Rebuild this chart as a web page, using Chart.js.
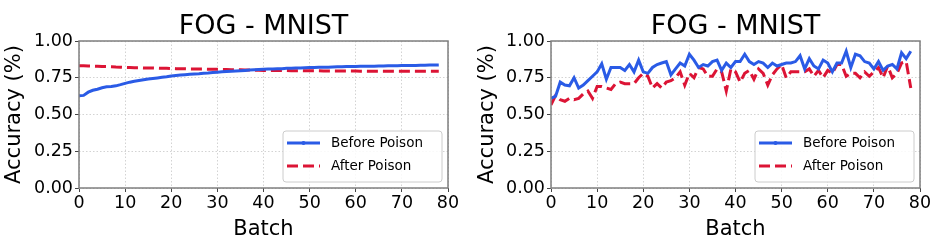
<!DOCTYPE html>
<html>
<head>
<meta charset="utf-8">
<script src="https://cdn.jsdelivr.net/npm/chart.js@4.4.1/dist/chart.umd.min.js"></script>
<style>
  html, body { margin: 0; padding: 0; background: #fff; }
  #wrap { position: relative; width: 935px; height: 240px; }
  .box { position: absolute; top: 0; height: 240px; }
</style>
</head>
<body>
<div id="wrap">
  <div class="box" style="left:0;width:465px"><canvas id="chartLeft"></canvas></div>
  <div class="box" style="left:465px;width:470px"><canvas id="chartRight"></canvas></div>
</div>
<script>
var batches = [0,1,2,3,4,5,6,7,8,9,10,11,12,13,14,15,16,17,18,19,20,21,22,23,24,25,26,27,28,29,
  30,31,32,33,34,35,36,37,38,39,40,41,42,43,44,45,46,47,48,49,50,51,52,53,54,55,56,57,58,59,
  60,61,62,63,64,65,66,67,68,69,70,71,72,73,74,75,76,77,78];

// left panel
var leftBefore = [0.628,0.63,0.652,0.665,0.672,0.682,0.688,0.69,0.695,0.703,0.712,0.72,0.726,0.731,0.736,0.741,0.745,0.749,0.753,0.757,
  0.762,0.765,0.768,0.771,0.774,0.776,0.778,0.781,0.783,0.786,0.788,0.79,0.792,0.794,0.796,0.798,0.8,0.802,0.804,0.806,
  0.808,0.809,0.81,0.811,0.812,0.814,0.815,0.816,0.817,0.818,0.819,0.82,0.821,0.822,0.822,0.823,0.824,0.825,0.826,0.827,
  0.827,0.828,0.828,0.829,0.829,0.83,0.83,0.831,0.832,0.832,0.833,0.833,0.834,0.834,0.835,0.835,0.836,0.836,0.837];
var leftAfter = [0.832,0.831,0.83,0.829,0.828,0.827,0.826,0.825,0.823,0.822,0.82,0.819,0.818,0.818,0.817,0.816,0.816,0.815,0.814,0.814,
  0.813,0.812,0.812,0.811,0.81,0.81,0.809,0.809,0.808,0.808,0.807,0.806,0.806,0.805,0.804,0.804,0.803,0.802,0.801,0.801,
  0.8,0.8,0.8,0.799,0.799,0.799,0.798,0.798,0.798,0.797,0.797,0.797,0.797,0.796,0.796,0.796,0.796,0.796,0.796,0.796,
  0.796,0.795,0.795,0.795,0.795,0.795,0.795,0.795,0.795,0.795,0.795,0.795,0.795,0.795,0.795,0.795,0.795,0.795,0.795];

// right panel
var rightBefore = [0.61,0.625,0.72,0.70,0.695,0.75,0.68,0.70,0.73,0.76,0.79,0.845,0.74,0.82,0.82,0.82,0.80,0.84,0.79,0.87,
  0.79,0.78,0.82,0.84,0.85,0.86,0.77,0.81,0.85,0.83,0.91,0.87,0.82,0.84,0.83,0.86,0.87,0.80,0.85,0.82,
  0.86,0.86,0.91,0.86,0.84,0.86,0.85,0.82,0.85,0.83,0.84,0.85,0.85,0.86,0.90,0.81,0.88,0.83,0.81,0.87,
  0.85,0.79,0.85,0.85,0.93,0.82,0.91,0.90,0.86,0.85,0.81,0.86,0.80,0.83,0.84,0.81,0.92,0.88,0.93];
var rightAfter = [0.565,0.63,0.60,0.59,0.61,0.60,0.61,0.64,0.66,0.61,0.69,0.69,0.68,0.67,0.71,0.72,0.71,0.71,0.71,0.75,
  0.78,0.76,0.68,0.71,0.68,0.72,0.73,0.75,0.79,0.70,0.78,0.75,0.82,0.81,0.76,0.76,0.81,0.79,0.66,0.81,
  0.79,0.72,0.78,0.80,0.74,0.81,0.78,0.70,0.77,0.81,0.84,0.75,0.79,0.79,0.79,0.79,0.81,0.76,0.80,0.75,
  0.80,0.78,0.84,0.84,0.76,0.78,0.78,0.75,0.79,0.76,0.79,0.82,0.75,0.83,0.75,0.78,0.85,0.86,0.68];

var yTicks = [0, 0.25, 0.5, 0.75, 1];
var xTicks = [0, 10, 20, 30, 40, 50, 60, 70, 80];
var titleText = 'FOG - MNIST';
var seriesNames = ['Before Poison', 'After Poison'];
var blue = '#2a5be6';
var red = '#dc1435';

function pts(ys) {
  return batches.map(function(b, i) { return { x: b, y: ys[i] }; });
}

// frame, title and the in-plot legend, drawn matplotlib-like
var framePlugin = {
  id: 'framePlugin',
  afterDraw: function(chart) {
    var ctx = chart.ctx, a = chart.chartArea;
    ctx.save();
    ctx.strokeStyle = '#7f7f7f';
    ctx.lineWidth = 1.5;
    ctx.strokeRect(a.left, a.top, a.right - a.left, a.bottom - a.top);

    ctx.fillStyle = '#000';
    ctx.font = '27px "DejaVu Sans"';
    ctx.textAlign = 'center';
    ctx.textBaseline = 'alphabetic';
    ctx.fillText(titleText, (a.left + a.right) / 2, 34);

    var w = 159, h = 51;
    var x0 = a.right - 6 - w, y0 = a.bottom - 6 - h;
    ctx.beginPath();
    ctx.roundRect(x0, y0, w, h, 3);
    ctx.fillStyle = 'rgba(255,255,255,0.85)';
    ctx.fill();
    ctx.strokeStyle = '#cccccc';
    ctx.lineWidth = 1;
    ctx.stroke();

    ctx.lineWidth = 3;
    ctx.strokeStyle = blue;
    ctx.beginPath();
    ctx.moveTo(x0 + 4, y0 + 12);
    ctx.lineTo(x0 + 37, y0 + 12);
    ctx.stroke();
    ctx.fillStyle = blue;
    ctx.beginPath();
    ctx.arc(x0 + 20.5, y0 + 12, 2, 0, Math.PI * 2);
    ctx.fill();

    ctx.strokeStyle = red;
    ctx.setLineDash([11, 5]);
    ctx.beginPath();
    ctx.moveTo(x0 + 4, y0 + 35);
    ctx.lineTo(x0 + 37, y0 + 35);
    ctx.stroke();
    ctx.setLineDash([]);

    ctx.fillStyle = '#000';
    ctx.font = '13.5px "DejaVu Sans"';
    ctx.textAlign = 'left';
    ctx.textBaseline = 'middle';
    ctx.fillText(seriesNames[0], x0 + 48, y0 + 12);
    ctx.fillText(seriesNames[1], x0 + 48, y0 + 35);
    ctx.restore();
  }
};

function makeChart(id, before, after, yWidth, padRight, yTitlePad) {
  var ctx = document.getElementById(id).getContext('2d');
  return new Chart(ctx, {
    type: 'line',
    data: {
      datasets: [{
        label: seriesNames[0],
        data: pts(before),
        borderColor: blue,
        backgroundColor: blue,
        borderWidth: 3,
        pointRadius: 0,
        tension: 0
      }, {
        label: seriesNames[1],
        data: pts(after),
        borderColor: red,
        backgroundColor: red,
        borderWidth: 3,
        borderDash: [11, 5],
        pointRadius: 0,
        tension: 0
      }]
    },
    options: {
      responsive: true,
      maintainAspectRatio: false,
      animation: false,
      layout: { padding: { left: 0, right: padRight, top: 41, bottom: 0 } },
      plugins: { legend: { display: false }, tooltip: { enabled: false } },
      scales: {
        x: {
          type: 'linear',
          min: 0,
          max: 80,
          afterBuildTicks: function(s) { s.ticks = xTicks.map(function(v) { return { value: v }; }); },
          afterFit: function(s) { s.height = 52; },
          ticks: { color: '#000', font: { family: 'DejaVu Sans', size: 17.5 }, padding: 1, maxRotation: 0 },
          grid: { color: '#d3d3d3', tickColor: '#444', tickLength: 4, tickWidth: 1 },
          border: { display: false, dash: [1.5, 2] },
          title: { display: true, text: 'Batch', color: '#000',
                   font: { family: 'DejaVu Sans', size: 21, lineHeight: 1.0 }, padding: { top: 0, bottom: 0 } }
        },
        y: {
          min: 0,
          max: 1,
          afterBuildTicks: function(s) { s.ticks = yTicks.map(function(v) { return { value: v }; }); },
          afterFit: function(s) { s.width = yWidth; },
          ticks: { color: '#000', font: { family: 'DejaVu Sans', size: 17.5 }, padding: 2,
                   callback: function(v) { return v.toFixed(2); } },
          grid: { color: '#d3d3d3', tickColor: '#444', tickLength: 4, tickWidth: 1 },
          border: { display: false, dash: [1.5, 2] },
          title: { display: true, text: 'Accuracy (%)', color: '#000',
                   font: { family: 'DejaVu Sans', size: 21, lineHeight: 1.0 }, padding: { top: yTitlePad, bottom: 0 } }
        }
      }
    },
    plugins: [framePlugin]
  });
}

makeChart('chartLeft', leftBefore, leftAfter, 79, 17, 4);
makeChart('chartRight', rightBefore, rightAfter, 86, 15, 12.5);
</script>
</body>
</html>
